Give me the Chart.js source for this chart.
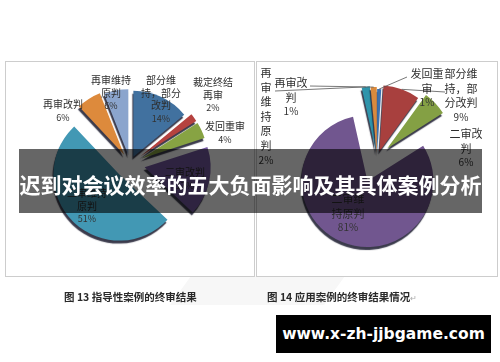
<!DOCTYPE html>
<html lang="zh"><head><meta charset="utf-8">
<script src="https://cdn.jsdelivr.net/npm/chart.js@4"></script>
<style>
html,body{margin:0;padding:0;background:#fff}
body{width:500px;height:362px;position:relative;overflow:hidden;font-family:"Noto Sans CJK SC","Noto Sans",sans-serif}
.panel{position:absolute;top:61px;height:214px;border:1.5px solid #cdcdcd;box-sizing:content-box;background:#fff}
.wm{position:absolute;left:170px;top:276px;width:175px;height:29px;background:#f7f7f7;clip-path:polygon(12% 0,100% 0,88% 100%,0 100%)}
canvas{position:absolute}
.lab{position:absolute;transform:translate(-50%,-50%);white-space:nowrap;line-height:1;color:#2e2e2e}
.pct{color:#333}
#soft{position:absolute;inset:0;filter:blur(.35px)}
#band{position:absolute;left:19px;top:149px;width:463px;height:64px;background:rgba(0,0,0,.6)}
#title{position:absolute;left:19px;top:169px;width:463px;text-align:center;color:#fff;font-weight:700;font-size:21px;line-height:30px;white-space:nowrap}
#site{position:absolute;left:276px;top:315px;width:215px;height:38px;background:#000;color:#fff;font:700 15.5px/38px "DejaVu Sans",sans-serif;text-align:center;white-space:nowrap}
.cap{position:absolute;top:290px;font-weight:700;font-size:10.5px;line-height:13px;color:#2a2a2a;white-space:nowrap}
</style></head><body>
<div class="wm"></div>
<div id="soft">
<div class="panel" style="left:5px;width:248px"></div>
<div class="panel" style="left:256px;width:240px"></div>
<canvas id="c1" width="220" height="200" style="left:20px;top:64px"></canvas>
<canvas id="c2" width="220" height="196" style="left:267px;top:60px"></canvas>
<div id="labels"></div>
<div class="cap" style="left:64px">图 13 指导性案例的终审结果</div>
<div class="cap" style="left:267px">图 14 应用案例的终审结果情况<span style="color:#aaa;font-weight:400;font-size:8px">↵</span></div>
</div>
<div id="band"></div>
<div id="title">迟到对会议效率的五大负面影响及其具体案例分析</div>
<div id="site">www.x-zh-jjbgame.com</div>
<script>
// Figure 13
const guideCategories = ["部分维持，部分改判","裁定终结再审","发回重审","二审改判","二审维持原判","再审改判","再审维持原判"];
const guideValues = [14,2,4,17,51,6,6];
const guideColors = ["#41719f","#b5423f","#87a343","#7459a0","#4298b4","#dd8a3c","#8ba5cd"];
const guideExplode = [8,13,13,15,15,11,9];
// Figure 14
const applyCategories = ["发回重审","部分维持，部分改判","二审改判","二审维持原判","再审维持原判","再审改判"];
const applyValues = [1,9,6,80.5,2,1.5];
const applyColors = ["#3b70ae","#a8403e","#84a044","#71568f","#2f94ab","#d98a3e"];
const applyExplode = [3,7,14,25,6,5];
// Label text
const guideLabels = [["部分维","持，部分","改判","14%"],["裁定终结","再审","2%"],["发回重审","4%"],["二审改判","17%"],["二审维持","原判","51%"],["再审改判","6%"],["再审维持","原判","6%"]];
const applyLabels = [["发回重","审","1%"],["部分维","持，部","分改判","9%"],["二审改","判","6%"],["二审维","持原判","81%"],["再","审","维","持","原","判","2%"],["再审改","判","1%"]];
// Label layout: centre x, first line y
const guideLabelPos = [[161,80],[213,82],[225,126],[185,172],[87,193],[63,104],[111,80]];
const guideLineGap = 12.7;
const applyLabelPos = [[427,73],[461,73],[466,133],[348,198],[266,72],[291,82]];
const applyLineGap = 14.6;
// Leader line ends for figure 14 (canvas px), by slice index
const applyLeaders = {0:[[140,17]],1:[[178,32]],4:[[8,31]],5:[[43,26]]};

const host = document.getElementById('labels');
function addLabels(labels,pos,gap,size){
  labels.forEach((ls,i)=>ls.forEach((t,j)=>{
    const d=document.createElement('div');
    d.className='lab'+(/%/.test(t)?' pct':'');
    d.textContent=t;
    d.style.left=pos[i][0]+'px';d.style.top=(pos[i][1]+j*gap)+'px';
    d.style.fontSize=(/%/.test(t)?size-1:size)+'px';
    host.appendChild(d);
  }));
}
addLabels(guideLabels,guideLabelPos,guideLineGap,10);
addLabels(applyLabels,applyLabelPos,applyLineGap,11);

// Pull each slice out along its mid-angle by a true pixel distance, radius unchanged
const explode = {id:'explode',beforeDatasetsDraw(c){
  const dist=c.options.plugins.explode.dist;
  c.getDatasetMeta(0).data.forEach((a,i)=>{
    if(a.__wrapped) return; a.__wrapped=true;
    const draw=a.draw;
    a.draw=function(ctx){
      const m=(this.startAngle+this.endAngle)/2;
      ctx.save();ctx.translate(Math.cos(m)*dist[i],Math.sin(m)*dist[i]);
      draw.call(this,ctx);ctx.restore();
    };
  });
}};
const shade = {id:'shade',
  beforeDatasetsDraw(c){const x=c.ctx;x.save();x.shadowColor='rgba(25,25,45,.85)';x.shadowOffsetX=-1;x.shadowOffsetY=3;x.shadowBlur=1;},
  afterDatasetsDraw(c){c.ctx.restore();}};
const leaders = {id:'leaders',afterDraw(c){
  const spec=c.options.plugins.leaders.ends; if(!spec) return;
  const dist=c.options.plugins.explode.dist;
  const x=c.ctx,meta=c.getDatasetMeta(0);
  x.save();x.strokeStyle='#555';x.lineWidth=.8;
  Object.keys(spec).forEach(k=>{
    const a=meta.data[k],m=(a.startAngle+a.endAngle)/2,r=a.outerRadius+dist[k];
    x.beginPath();x.moveTo(a.x+Math.cos(m)*r,a.y+Math.sin(m)*r);
    spec[k].forEach(e=>x.lineTo(e[0],e[1]));x.stroke();
  });
  x.restore();
}};
function pie(id,labels,values,colors,dist,ends){
  new Chart(document.getElementById(id),{type:'pie',
    data:{labels,datasets:[{data:values,backgroundColor:colors,borderWidth:0,radius:66}]},
    options:{responsive:false,animation:false,events:[],layout:{padding:0},
      plugins:{legend:{display:false},tooltip:{enabled:false},leaders:{ends},explode:{dist}}},
    plugins:[explode,shade,leaders]});
}
pie('c1',guideCategories,guideValues,guideColors,guideExplode,null);
pie('c2',applyCategories,applyValues,applyColors,applyExplode,applyLeaders);
</script>
</body></html>
